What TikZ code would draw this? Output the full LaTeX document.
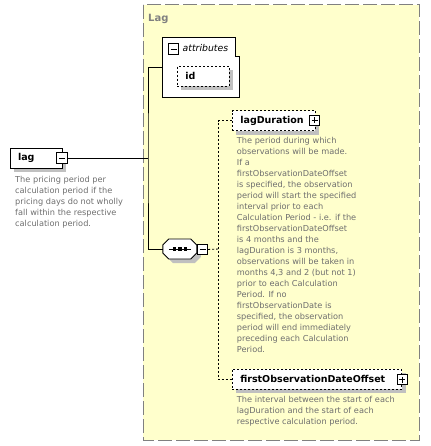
\documentclass[tikz,border=0pt]{standalone}
\usepackage{fontspec}
\setmainfont{DejaVu Sans}
\usetikzlibrary{shadows}
\definecolor{frameyellow}{HTML}{FFFFCC}
\definecolor{framegray}{HTML}{808080}
\definecolor{descgray}{HTML}{6E6E6E}
\definecolor{shadowgray}{HTML}{C0C0C0}
\tikzset{
  elembox/.style={draw=black, fill=white, line width=0.9pt, inner xsep=8pt, inner ysep=0pt,
    minimum height=20pt, align=left, font=\fontsize{9.5}{10}\selectfont\bfseries,
    drop shadow={shadow xshift=4pt, shadow yshift=-4pt, fill=shadowgray, opacity=1}},
  optbox/.style={elembox, dash pattern=on 2pt off 2pt},
  pmbox/.style={draw=black, fill=white, line width=0.9pt, minimum width=10.5pt, minimum height=10.5pt, inner sep=0pt},
  conn/.style={draw=black, line width=0.9pt},
  dconn/.style={draw=black, line width=0.9pt, dash pattern=on 2pt off 2pt},
  doc/.style={anchor=north west, inner sep=0pt, align=left, text=descgray, font=\fontsize{8.2}{11}\selectfont},
}
\begin{document}
\begin{tikzpicture}[x=1pt,y=-1pt]
\useasboundingbox (0,0) rectangle (430,446);
% frame
\draw[framegray, dash pattern=on 14pt off 4pt, line width=1pt, fill=frameyellow] (143,5) rectangle (419,440);
\node[anchor=west, inner sep=0pt, text=framegray, font=\fontsize{10}{10}\selectfont\bfseries] (laglabel) at (148,19) {Lag};
% lag element
\node[elembox, text width=36pt] (lag) at (36,158) {lag};
\node[pmbox] (lagminus) at (62,158) {};
\draw[line width=0.9pt] (lagminus.center) +(-3,0) -- +(3,0);
\node[doc] (lagdoc) at (15,176.5) {The pricing period per\\calculation period if the\\pricing days do not wholly\\fall within the respective\\calculation period.};
% attributes
\node[minimum width=77pt, minimum height=59pt, inner sep=0pt] (attr) at (201.5,67.5) {};
\draw[fill=white, line width=0.9pt] (attr.north west) -- ++(73,0) -- ++(0,19) -- ++(4,0) |- (attr.south west) -- cycle;
\node[pmbox] (attrminus) at (173.5,49) {};
\draw[line width=0.9pt] (attrminus.center) +(-3,0) -- +(3,0);
\node[anchor=west, inner sep=0pt, font=\fontsize{9.3}{10}\selectfont\itshape] (attrlabel) at (182.5,48) {attributes};
\node[optbox, text width=35.7pt] (id) at (203.3,76) {id};
% sequence
\node[minimum width=34pt, minimum height=20pt, inner sep=0pt] (seq) at (180,249) {};
\fill[shadowgray] ([shift={(4,4)}]seq.west) -- ++(0,-4) -- ++(6,-6) -- ++(22,0) -- ++(6,6) -- ++(0,8) -- ++(-6,6) -- ++(-22,0) -- ++(-6,-6) -- cycle;
\draw[fill=white, line width=0.9pt] (seq.west) -- ++(0,-4) -- ++(6,-6) -- ++(22,0) -- ++(6,6) -- ++(0,8) -- ++(-6,6) -- ++(-22,0) -- ++(-6,-6) -- cycle;
\draw[line width=0.9pt] ([xshift=6pt]seq.west) -- ([xshift=-6pt]seq.east);
\foreach \dx in {-5.5,0,5.5} \fill ([xshift=\dx pt]seq.center) +(-1.6,-1.6) rectangle +(1.6,1.6);
\node[pmbox] (seqminus) at (202.5,249.5) {};
\draw[line width=0.9pt] (seqminus.center) +(-3,0) -- +(3,0);
% children
\node[optbox, text width=66.7pt] (lagdur) at (273.7,120.7) {lagDuration};
\node[pmbox] (lagdurplus) at (314.5,120.5) {};
\draw[line width=0.9pt] (lagdurplus.center) +(-3,0) -- +(3,0) (lagdurplus.center) +(0,-3) -- +(0,3);
\node[doc] (lagdurdoc) at (236.7,137.2) {The period during which\\observations will be made.\\If a\\firstObservationDateOffset\\is specified, the observation\\period will start the specified\\interval prior to each\\Calculation Period - i.e. if the\\firstObservationDateOffset\\is 4 months and the\\lagDuration is 3 months,\\observations will be taken in\\months 4,3 and 2 (but not 1)\\prior to each Calculation\\Period. If no\\firstObservationDate is\\specified, the observation\\period will end immediately\\preceding each Calculation\\Period.};
\node[optbox, text width=153.4pt] (firstobs) at (317,379.2) {firstObservationDateOffset};
\node[pmbox] (firstobsplus) at (402.2,379.5) {};
\draw[line width=0.9pt] (firstobsplus.center) +(-3,0) -- +(3,0) (firstobsplus.center) +(0,-3) -- +(0,3);
\node[doc] (firstobsdoc) at (236.7,396.2) {The interval between the start of each\\lagDuration and the start of each\\respective calculation period.};
% connectors
\coordinate (jn) at (148,158);
\coordinate (dj) at (218,249);
\draw[conn] (lagminus.east) -- (jn);
\draw[conn] (attr.west) -| (jn) |- (seq.west);
\draw[dconn] (seqminus.east) -- (dj);
\draw[dconn] (lagdur.west) -| (dj) |- (firstobs.west);
\end{tikzpicture}
\end{document}
